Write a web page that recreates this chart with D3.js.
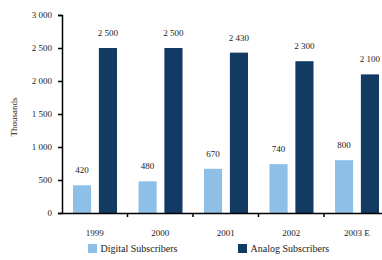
<!DOCTYPE html>
<html>
<head>
<meta charset="utf-8">
<script src="https://cdn.jsdelivr.net/npm/d3@7"></script>
<style>
  body { margin: 0; background: #fff; }
  text { font-family: "Liberation Serif", serif; fill: #222; }
</style>
</head>
<body>
<div id="chart"></div>
<script>
// Data
const years = ['1999', '2000', '2001', '2002', '2003 E']
const digital = [420, 480, 670, 740, 800]
const analog = [2500, 2500, 2430, 2300, 2100]
const seriesNames = ['Digital Subscribers', 'Analog Subscribers']
const yTicks = [0, 500, 1000, 1500, 2000, 2500, 3000]

const colors = ['#8DBFE7', '#123A63']

const width = 382, height = 260
const margin = {top: 15, left: 62, bottom: 47}
const plotRight = 389.5
const plotBottom = height - margin.bottom

const svg = d3.select('#chart')
  .append('svg')
  .attr('width', width)
  .attr('height', height)

const fmt = d3.formatLocale({decimal: '.', thousands: ' ', grouping: [3], currency: ['', '']}).format(',')

// Scales
const xScale = d3.scaleBand()
  .domain(years)
  .range([margin.left, plotRight])

const inner = d3.scaleBand()
  .domain([0, 1])
  .range([11, xScale.bandwidth() - 10.5])
  .paddingInner(0.3)

const yScale = d3.scaleLinear()
  .domain([0, 3000])
  .range([plotBottom, margin.top])

// Bars
const series = [digital, analog]
series.forEach((vals, s) => {
  const g = svg.append('g')
  g.selectAll('rect')
    .data(vals)
    .join('rect')
    .attr('x', (d, i) => xScale(years[i]) + inner(s))
    .attr('width', inner.bandwidth())
    .attr('y', d => yScale(d))
    .attr('height', d => yScale(0) - yScale(d))
    .attr('fill', colors[s])

  g.selectAll('text')
    .data(vals)
    .join('text')
    .attr('x', (d, i) => xScale(years[i]) + inner(s) + inner.bandwidth() / 2)
    .attr('y', d => yScale(d) - 12)
    .attr('text-anchor', 'middle')
    .attr('font-size', '9px')
    .text(d => fmt(d))
})

// Y axis
const yAxis = d3.axisLeft(yScale)
  .tickValues(yTicks)
  .tickSize(4)
  .tickPadding(6)
  .tickFormat(d => fmt(d))

const yg = svg.append('g')
  .attr('transform', `translate(${margin.left},0)`)
  .call(yAxis)
yg.select('.domain').attr('stroke', '#000').attr('stroke-width', 1.5)
yg.selectAll('.tick line').attr('stroke', '#000').attr('stroke-width', 1.5)
yg.selectAll('text')
  .attr('font-size', '9px')
  .attr('font-family', 'Liberation Serif')
  .attr('fill', '#222')

// X axis
const xAxis = d3.axisBottom(xScale)
  .tickSize(0)
  .tickPadding(17)

const xg = svg.append('g')
  .attr('transform', `translate(0,${plotBottom})`)
  .call(xAxis)
xg.select('.domain').attr('stroke', '#000').attr('stroke-width', 1.5)
xg.selectAll('text')
  .attr('font-size', '9px')
  .attr('font-family', 'Liberation Serif')
  .attr('fill', '#222')

// boundary ticks between categories
xg.selectAll('line.sep')
  .data(years.slice(1))
  .join('line')
  .attr('class', 'sep')
  .attr('x1', d => xScale(d))
  .attr('x2', d => xScale(d))
  .attr('y1', 0)
  .attr('y2', 4)
  .attr('stroke', '#000')
  .attr('stroke-width', 1.5)

// Y label
svg.append('text')
  .attr('transform', `translate(17,${(margin.top + plotBottom) / 2 + 3}) rotate(-90)`)
  .attr('text-anchor', 'middle')
  .attr('font-size', '9px')
  .text('Thousands')

// Legend
const legendX = [88, 238]
const legend = svg.append('g')
  .selectAll('g')
  .data(seriesNames)
  .join('g')
  .attr('transform', (d, i) => `translate(${legendX[i]},244)`)

legend.append('rect')
  .attr('width', 9)
  .attr('height', 9)
  .attr('fill', (d, i) => colors[i])

legend.append('text')
  .attr('x', 12.5)
  .attr('y', 8)
  .attr('font-size', '10px')
  .text(d => d)
</script>
</body>
</html>
